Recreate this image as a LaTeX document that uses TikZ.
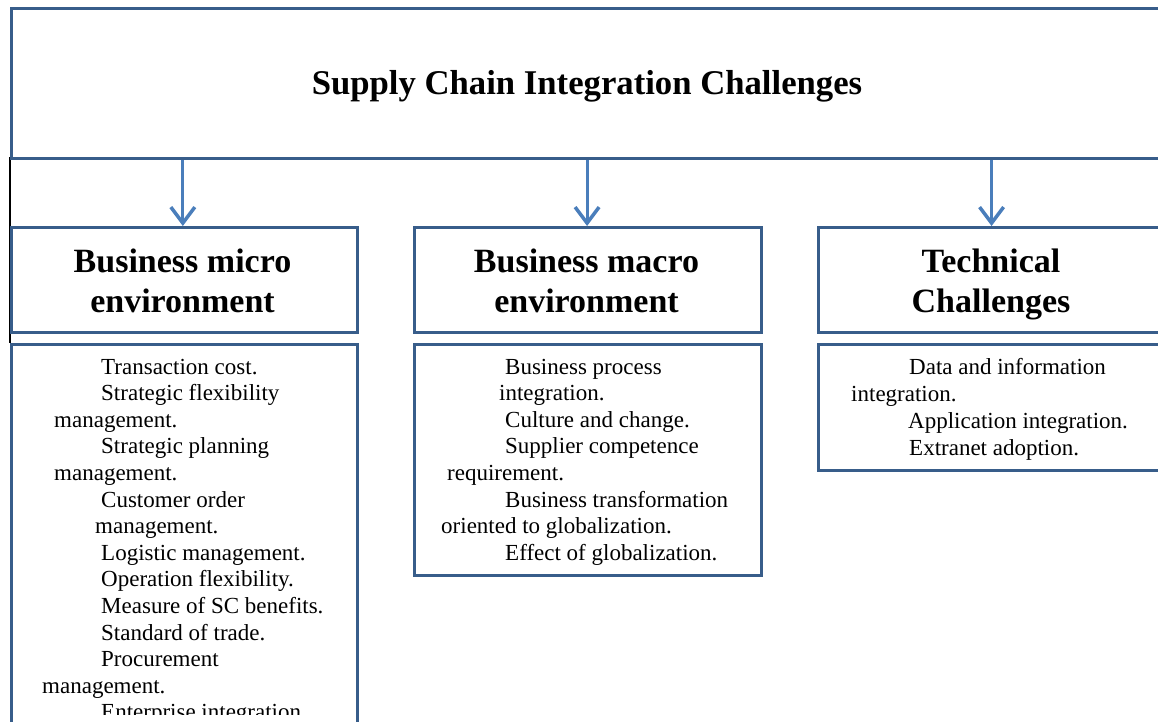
\documentclass[tikz,border=0pt]{standalone}
\usepackage{fontspec}
\setmainfont{Liberation Serif}
\usetikzlibrary{arrows.meta}
\definecolor{boxblue}{RGB}{56,93,138}
\definecolor{arrblue}{RGB}{74,126,187}
\tikzset{
  box/.style={draw=boxblue, line width=3.2pt, rectangle, anchor=north west, inner sep=0pt, fill=white},
  conn/.style={draw=arrblue, line width=3.2pt, -{Straight Barb[length=16pt,width=24pt,line width=3.5pt]}},
  head/.style={font=\fontsize{34}{40}\selectfont\bfseries, align=center, inner sep=0pt},
  item/.style={font=\fontsize{23}{26}\selectfont, anchor=base west, inner sep=0pt},
}
\begin{document}
\begin{tikzpicture}[x=1pt,y=-1pt]
\useasboundingbox (0,0) rectangle (1158,722);
\clip (0,0) rectangle (1158,722);
\fill[white] (0,0) rectangle (1158,722);
% black line behind the boxes
\draw[black, line width=2.5pt] (10,157) -- (10,343);
% top box
\node[box, minimum width=1156pt, minimum height=150pt] (top) at (9.5,7) {};
\node[font=\fontsize{34.7}{40}\selectfont\bfseries, inner sep=0pt] (title) at (587,86) {Supply Chain Integration Challenges};
% header boxes
\node[box, minimum width=346.5pt, minimum height=105pt] (h1) at (9.5,226) {};
\node[box, minimum width=347pt, minimum height=105pt] (h2) at (413,226) {};
\node[box, minimum width=348pt, minimum height=105pt] (h3) at (817,226) {};
\node[head] (t1) at (182.5,281) {Business micro\\environment};
\node[head] (t2) at (586.5,281) {Business macro\\environment};
\node[head] (t3) at (991,284) {Technical\\Challenges};
% content boxes
\node[box, minimum width=346.5pt, minimum height=400pt] (c1) at (9.5,343) {};
\node[box, minimum width=347pt, minimum height=231pt] (c2) at (413,343) {};
\node[box, minimum width=348pt, minimum height=126pt] (c3) at (817,343) {};
% arrows
\draw[conn] ([xshift=-1.5pt]top.south -| h1.north) -- ([xshift=-1.5pt]h1.north);
\draw[conn] ([xshift=-1pt]top.south -| h2.north) -- ([xshift=-1pt]h2.north);
\draw[conn] ([xshift=-1pt]top.south -| h3.north) -- ([xshift=-1pt]h3.north);
% left items
\begin{scope}
\clip (0,0) rectangle (1158,714);
\node[item] (l1) at (101,374) {Transaction cost.};
\node[item] (l2) at (101,400) {Strategic flexibility};
\node[item] (l3) at (54,427) {management.};
\node[item] (l4) at (101,453) {Strategic planning};
\node[item] (l5) at (54,480) {management.};
\node[item] (l6) at (101,507) {Customer order};
\node[item] (l7) at (95,533) {management.};
\node[item] (l8) at (101,560) {Logistic management.};
\node[item] (l9) at (101,586) {Operation flexibility.};
\node[item] (l10) at (101,613) {Measure of SC benefits.};
\node[item] (l11) at (101,640) {Standard of trade.};
\node[item] (l12) at (101,666) {Procurement};
\node[item] (l13) at (42,693) {management.};
\node[item] (l14) at (101,719) {Enterprise integration.};
\end{scope}
% middle items
\node[item] (m1) at (505,374) {Business process};
\node[item] (m2) at (499,400) {integration.};
\node[item] (m3) at (505,427) {Culture and change.};
\node[item] (m4) at (505,453) {Supplier competence};
\node[item] (m5) at (447,480) {requirement.};
\node[item] (m6) at (505,507) {Business transformation};
\node[item] (m7) at (441,533) {oriented to globalization.};
\node[item] (m8) at (505,560) {Effect of globalization.};
% right items
\node[item] (r1) at (909,374) {Data and information};
\node[item] (r2) at (851,401) {integration.};
\node[item] (r3) at (908,428) {Application integration.};
\node[item] (r4) at (909,455) {Extranet adoption.};
\end{tikzpicture}
\end{document}
